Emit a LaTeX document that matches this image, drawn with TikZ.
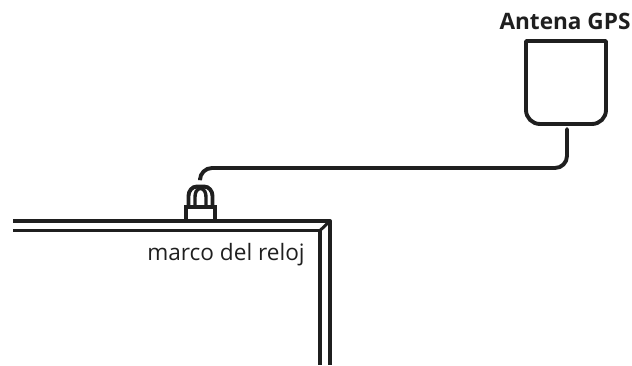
\documentclass[tikz,border=0pt]{standalone}
\usepackage{fontspec}
\setmainfont{Open Sans}
\usepackage{xcolor}
\usepackage{tikz}
\usetikzlibrary{positioning, calc}
\definecolor{linea}{HTML}{1F1F1F}
\tikzset{
    trazo/.style={draw=linea, line width=3.9pt},
    marco/.style={draw=linea, line width=3.9pt},
    rotulo/.style={text=linea, inner sep=0pt, anchor=base},
}
\begin{document}
\begin{tikzpicture}[x=1pt, y=-1pt]
    \useasboundingbox (0,0) rectangle (632,365);

    % Marco
    \draw[marco, line join=round] (13,221) -- (330,221) -- (330,365);
    \draw[marco] (13,230.5) -- (320,230.5) -- (320,365);
    \draw[marco, line width=3pt] (320,230.5) -- (330,221);
    \node[rotulo, font=\fontsize{22.6pt}{26pt}\selectfont] (etiquetamarco) at (226,260) {marco del reloj};

    % Conector
    \draw[trazo, line width=3.5pt] (186,221) -- (186,207) -- (215,207) -- (215,221);
    \draw[trazo] (188.5,207) -- (188.5,196) to[out=90, in=180] (197,186.5) -- (204,186.5) to[out=0, in=90] (212.5,196) -- (212.5,207);
    \draw[trazo, line width=3.4pt] (195,207) -- (195,197) to[out=90, in=180] (200.5,188.5) to[out=0, in=90] (206,197) -- (206,207);
    \coordinate (salida) at (200,178);

    % Antena
    \node[rotulo, font=\fontsize{22.6pt}{26pt}\selectfont\bfseries] (etiquetaantena) at (565,29) {Antena GPS};
    \coordinate (baseantena) at (567,129);
    \draw[trazo, line join=round] (526,41) -- (606,41) [rounded corners=14pt] -- (606,124) -- (526,124) [sharp corners] -- cycle;

    % Cable
    \draw[trazo, line cap=round, rounded corners=12pt] (baseantena) -- (567,168) -- (200,168) -- (salida);
\end{tikzpicture}
\end{document}
